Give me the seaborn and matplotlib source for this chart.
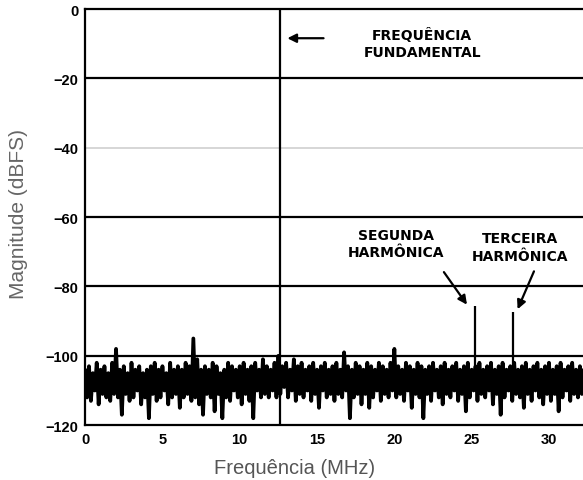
import numpy as np
import pandas as pd
import matplotlib
matplotlib.use("Agg")
import matplotlib.pyplot as plt
import seaborn as sns

# noise floor, one value every 0.125 MHz (dBFS)
noise_step = 0.125
noise_db = [
    -104, -112, -103, -113, -105, -110, -102, -114, -104, -111, -103, -112, -105, -113, -102, -111,
    -98, -112, -104, -117, -103, -111, -105, -113, -102, -112, -104, -110, -103, -114, -105, -112,
    -104, -118, -103, -111, -102, -113, -104, -112, -103, -110, -105, -114, -102, -112, -104, -111,
    -103, -115, -104, -112, -102, -111, -103, -113, -95, -112, -101, -114, -104, -117, -103, -111,
    -104, -112, -102, -116, -103, -111, -105, -118, -104, -112, -102, -113, -103, -110, -104, -112,
    -103, -114, -102, -111, -104, -113, -103, -118, -102, -110, -104, -112, -101, -111, -103, -112,
    -104, -110, -102, -112, -100, -111, -103, -109, -102, -112, -104, -110, -101, -113, -103, -111,
    -102, -112, -104, -110, -103, -113, -102, -111, -104, -115, -103, -110, -102, -112, -104, -111,
    -103, -113, -102, -111, -104, -112, -99, -110, -103, -118, -104, -112, -102, -111, -103, -114,
    -104, -111, -102, -115, -103, -112, -104, -110, -102, -113, -103, -111, -104, -112, -102, -110,
    -98, -112, -103, -111, -104, -113, -102, -110, -103, -115, -104, -111, -102, -112, -103, -118,
    -104, -111, -103, -113, -102, -110, -104, -112, -103, -114, -102, -111, -104, -112, -103, -110,
    -102, -113, -104, -111, -103, -116, -102, -112, -104, -110, -103, -113, -102, -111, -104, -112,
    -103, -110, -102, -114, -104, -111, -103, -117, -102, -112, -104, -110, -103, -113, -102, -111,
    -104, -112, -103, -115, -102, -111, -104, -113, -103, -110, -102, -112, -104, -114, -103, -111,
    -102, -113, -104, -111, -103, -116, -102, -112, -104, -110, -103, -113, -102, -111, -104, -112,
    -103, -111, -104,
]

# tones
fund_freq = 12.58
harm_freqs = [25.2, 27.7]
harm_levels = [-85.5, -87.5]
harm_base = -103

y_ticks = [0, -20, -40, -60, -80, -100, -120]
x_ticks = [0, 5, 10, 15, 20, 25, 30]

df = pd.DataFrame({"freq": np.arange(len(noise_db)) * noise_step, "mag": noise_db})

sns.set_theme(style="white")
plt.rcParams["font.family"] = ["Liberation Sans", "DejaVu Sans"]

fig = plt.figure(figsize=(5.83, 4.81), dpi=100)
ax = fig.add_axes([0.146, 0.114, 0.854, 0.865])

sns.lineplot(data=df, x="freq", y="mag", color="black", linewidth=2.7, ax=ax)

ax.vlines(harm_freqs, harm_base, harm_levels, color="black", linewidth=1.6)
ax.axvline(fund_freq, color="black", linewidth=1.6)

for y in [-20, -60, -80, -100]:
    ax.axhline(y, color="black", linewidth=1.6, zorder=1)
ax.axhline(-40, color="#cfcfcf", linewidth=1.2, zorder=1)

ax.set_xlim(0, 32.2)
ax.set_ylim(-120, 0)
ax.set_xticks(x_ticks)
ax.set_yticks(y_ticks)
ax.set_xticklabels([str(v) for v in x_ticks], fontweight="bold", fontsize=10.5, color="black")
ax.set_yticklabels([str(v).replace("-", "\u2212") for v in y_ticks], fontweight="bold",
                   fontsize=10.5, color="black")
ax.tick_params(length=0, pad=5)

for side in ["left", "top", "bottom"]:
    ax.spines[side].set_color("black")
    ax.spines[side].set_linewidth(1.6)
ax.spines["right"].set_visible(False)

ax.set_xlabel("Frequência (MHz)", fontsize=14.5, color="#555555")
ax.xaxis.set_label_coords(0.42, -0.08)
ax.set_ylabel("Magnitude (dBFS)", fontsize=15, color="#666666")
ax.yaxis.set_label_coords(-0.115, 0.51)

ann_kw = dict(fontsize=10, fontweight="bold", ha="center", va="center", linespacing=1.3,
              color="black", family="DejaVu Sans")
ax.text(21.8, -9.8, "FREQUÊNCIA\nFUNDAMENTAL", **ann_kw)
ax.text(20.1, -67.7, "SEGUNDA\nHARMÔNICA", **ann_kw)
ax.text(28.1, -68.6, "TERCEIRA\nHARMÔNICA", **ann_kw)

arrow = dict(arrowstyle="-|>", color="black", lw=1.6, mutation_scale=13)
ax.annotate("", xy=(12.9, -8.4), xytext=(15.6, -8.4), arrowprops=arrow)
ax.annotate("", xy=(24.8, -85.9), xytext=(23.1, -75.2), arrowprops=arrow)
ax.annotate("", xy=(27.9, -87.3), xytext=(29.1, -74.9), arrowprops=arrow)

fig.savefig("out.png", dpi=100)
